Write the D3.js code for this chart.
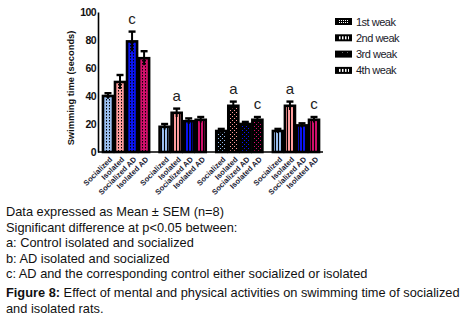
<!DOCTYPE html>
<html>
<head>
<meta charset="utf-8">
<script src="https://cdn.jsdelivr.net/npm/d3@7"></script>
<style>
  body { margin: 0; background: #fff; }
  #chart { position: relative; width: 467px; height: 322px; }
  .notes { position: absolute; left: 6px; top: 204px; font-family: 'Liberation Sans', Arial, sans-serif; font-size: 12.8px; line-height: 15.5px; color: #111; white-space: nowrap; }
  .caption { margin-top: 3px; line-height: 16px; font-size: 12.8px; }
</style>
</head>
<body>
<div id="chart"></div>
<script>
const categories = ['Socialized', 'Isolated', 'Socialized AD', 'Isolated AD']
const weeks = ['1st weak', '2nd weak', '3rd weak', '4th weak']
const colors = ['#9bbff0', '#ff9c9c', '#0a14f0', '#d0106a']

const week1Mean = [40, 50, 79, 67]
const week1Sem = [2, 5, 7, 5]
const week2Mean = [18, 28, 22, 23]
const week2Sem = [2, 3, 2, 2]
const week3Mean = [15, 33, 20, 23]
const week3Sem = [1.5, 3, 1.5, 2]
const week4Mean = [15, 33, 19, 23]
const week4Sem = [1.5, 3, 1.5, 2]

const yTicks = [0, 20, 40, 60, 80, 100]

// significance letters: week index, category index, letter
const sigWeek = [0, 1, 2, 2, 3, 3]
const sigCat = [2, 1, 1, 3, 1, 3]
const sigLetter = ['c', 'a', 'a', 'c', 'a', 'c']

const means = [week1Mean, week2Mean, week3Mean, week4Mean]
const sems = [week1Sem, week2Sem, week3Sem, week4Sem]

const rows = []
weeks.forEach((w, wi) => {
  categories.forEach((c, ci) => {
    rows.push({ week: w, wi, cat: c, ci, mean: means[wi][ci], sem: sems[wi][ci] })
  })
})

const W = 467
const H = 322
const svg = d3.select('#chart').append('svg').attr('width', W).attr('height', H)
  .style('position', 'absolute').style('left', 0).style('top', 0)

const y = d3.scaleLinear().domain([0, 100]).range([152, 12])
const x0 = d3.scaleBand().domain(weeks).range([98, 324]).paddingInner(0.15).paddingOuter(0.07)
const x1 = d3.scaleBand().domain(categories).range([0, x0.bandwidth()])

// patterns
const defs = svg.append('defs')
weeks.forEach((w, wi) => {
  colors.forEach((col, ci) => {
    const p = defs.append('pattern').attr('id', `p${wi}${ci}`)
      .attr('patternUnits', 'userSpaceOnUse')
    if (wi === 0) {
      p.attr('width', 3).attr('height', 3)
      p.append('rect').attr('width', 3).attr('height', 3).attr('fill', col)
      p.append('rect').attr('x', 1).attr('y', 0).attr('width', 1).attr('height', 1.5).attr('fill', '#000')
    } else if (wi === 2) {
      p.attr('width', 4).attr('height', 4)
      p.append('rect').attr('width', 4).attr('height', 4).attr('fill', '#000')
      p.append('rect').attr('x', 0).attr('y', 0).attr('width', 1).attr('height', 1).attr('fill', col)
      p.append('rect').attr('x', 2).attr('y', 2).attr('width', 1).attr('height', 1).attr('fill', col)
    } else {
      p.attr('width', 3).attr('height', 3)
      p.append('rect').attr('width', 3).attr('height', 3).attr('fill', col)
      p.append('rect').attr('x', 2).attr('y', 0).attr('width', 1).attr('height', 3).attr('fill', '#000')
    }
  })
  // legend patterns (white on black)
  const lp = defs.append('pattern').attr('id', `lp${wi}`)
    .attr('patternUnits', 'userSpaceOnUse')
  if (wi === 0) {
    lp.attr('width', 2).attr('height', 2)
    lp.append('rect').attr('width', 2).attr('height', 2).attr('fill', '#000')
    lp.append('rect').attr('width', 1).attr('height', 1).attr('fill', '#fff')
  } else if (wi === 2) {
    lp.attr('width', 5).attr('height', 7)
    lp.append('rect').attr('width', 5).attr('height', 7).attr('fill', '#000')
    lp.append('rect').attr('x', 2).attr('y', 3).attr('width', 1).attr('height', 1).attr('fill', '#fff')
  } else {
    lp.attr('width', 3).attr('height', 3)
    lp.append('rect').attr('width', 3).attr('height', 3).attr('fill', '#000')
    lp.append('rect').attr('x', 1).attr('width', 1.5).attr('height', 3).attr('fill', '#fff')
  }
})

// axes
svg.append('g')
  .attr('transform', 'translate(98,0)')
  .call(d3.axisLeft(y).tickValues(yTicks).tickSize(0).tickPadding(2))
  .call((g) => {
    g.select('.domain').attr('stroke', '#000').attr('stroke-width', 1.6)
    g.selectAll('.tick text')
      .style('font-family', "'Liberation Sans', Arial, sans-serif")
      .style('font-size', '10.5px')
      .style('font-weight', 'bold')
      .style('letter-spacing', '-0.6px')
      .style('fill', '#111')
  })

svg.append('text')
  .attr('transform', `translate(74,88) rotate(-90)`)
  .attr('text-anchor', 'middle')
  .style('font-family', "'Liberation Sans', Arial, sans-serif")
  .style('font-size', '9.3px')
  .style('font-weight', 'bold')
  .style('fill', '#111')
  .text('Swimming time (seconds)')

// bars
const bars = svg.append('g')
bars.selectAll('rect.bar')
  .data(rows)
  .enter()
  .append('rect')
  .attr('class', 'bar')
  .attr('x', (d) => x0(d.week) + x1(d.cat) + 1)
  .attr('y', (d) => y(d.mean))
  .attr('width', x1.bandwidth() - 2)
  .attr('height', (d) => y(0) - y(d.mean))
  .attr('fill', (d) => `url(#p${d.wi}${d.ci})`)
  .attr('stroke', '#000')
  .attr('stroke-width', 2.6)

// error bars
const err = svg.append('g').attr('stroke', '#000')
err.selectAll('line.stem')
  .data(rows)
  .enter()
  .append('line')
  .attr('x1', (d) => x0(d.week) + x1(d.cat) + x1.bandwidth() / 2)
  .attr('x2', (d) => x0(d.week) + x1(d.cat) + x1.bandwidth() / 2)
  .attr('y1', (d) => y(d.mean - d.sem))
  .attr('y2', (d) => y(d.mean + d.sem))
  .attr('stroke-width', 2)
err.selectAll('line.cap')
  .data(rows)
  .enter()
  .append('line')
  .attr('x1', (d) => x0(d.week) + x1(d.cat) + x1.bandwidth() / 2 - 3.5)
  .attr('x2', (d) => x0(d.week) + x1(d.cat) + x1.bandwidth() / 2 + 3.5)
  .attr('y1', (d) => y(d.mean + d.sem))
  .attr('y2', (d) => y(d.mean + d.sem))
  .attr('stroke-width', 2.4)

// x axis line
svg.append('g')
  .attr('transform', `translate(0,${y(0)})`)
  .call(d3.axisBottom(x0).tickSize(0).tickFormat(''))
  .call((g) => {
    g.select('.domain').attr('d', 'M98,0H323').attr('stroke', '#000').attr('stroke-width', 1.6)
  })

// category labels
svg.append('g').selectAll('text')
  .data(rows)
  .enter()
  .append('text')
  .attr('transform', (d) => `translate(${x0(d.week) + x1(d.cat) + x1.bandwidth() / 2 + 3},158) rotate(-45)`)
  .attr('text-anchor', 'end')
  .attr('dy', '0.35em')
  .style('font-family', "'Liberation Sans', Arial, sans-serif")
  .style('font-size', '7.6px')
  .style('font-weight', 'bold')
  .style('fill', '#1a1a33')
  .text((d) => d.cat)

// significance letters
svg.append('g').selectAll('text')
  .data(sigLetter)
  .enter()
  .append('text')
  .attr('x', (d, i) => x0(weeks[sigWeek[i]]) + x1(categories[sigCat[i]]) + x1.bandwidth() / 2)
  .attr('y', (d, i) => y(means[sigWeek[i]][sigCat[i]] + sems[sigWeek[i]][sigCat[i]]) - 8)
  .attr('text-anchor', 'middle')
  .style('font-family', "'Liberation Sans Narrow', 'Liberation Sans', Arial, sans-serif")
  .style('font-size', '15px')
  .style('fill', '#222')
  .text((d) => d)

// legend
const legend = svg.append('g').attr('transform', 'translate(335,0)')
weeks.forEach((w, i) => {
  const cy = 21.5 + i * 16.3
  legend.append('rect')
    .attr('x', 0).attr('y', cy - 3.5).attr('width', 17).attr('height', 7).attr('fill', '#000')
  legend.append('rect')
    .attr('x', 3).attr('y', cy - 1.5).attr('width', 11).attr('height', 3).attr('fill', `url(#lp${i})`)
  legend.append('text')
    .attr('x', 21).attr('y', cy + 4)
    .style('font-family', "'Liberation Sans', Arial, sans-serif")
    .style('font-size', '11px')
    .style('letter-spacing', '-0.5px')
    .style('fill', '#1a1a2a')
    .text(w)
})
</script>
<div class="notes">
  <div>Data expressed as Mean ± SEM (n=8)</div>
  <div>Significant difference at p&lt;0.05 between:</div>
  <div>a: Control isolated and socialized</div>
  <div>b: AD isolated and socialized</div>
  <div>c: AD and the corresponding control either socialized or isolated</div>
  <div class="caption"><b>Figure 8:</b> Effect of mental and physical activities on swimming time of socialized<br>and isolated rats.</div>
</div>
</body>
</html>
